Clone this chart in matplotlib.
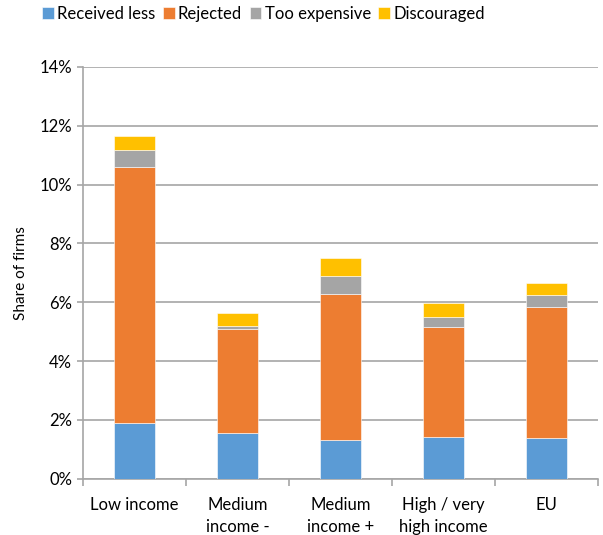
import numpy as np
import matplotlib
import matplotlib.pyplot as plt
from matplotlib.ticker import FuncFormatter, FixedLocator

matplotlib.use("Agg")

plt.rcParams["font.family"] = ["Lato", "DejaVu Sans"]

categories = ["Low income", "Medium\nincome -", "Medium\nincome +",
              "High / very\nhigh income", "EU"]
series = ["Received less", "Rejected", "Too expensive", "Discouraged"]
received_less = [1.90, 1.55, 1.31, 1.42, 1.40]
rejected = [8.70, 3.54, 4.97, 3.73, 4.43]
too_expensive = [0.58, 0.12, 0.60, 0.34, 0.41]
discouraged = [0.47, 0.44, 0.62, 0.47, 0.40]
colors = ["#5B9BD5", "#ED7D31", "#A5A5A5", "#FFC000"]

fig = plt.figure(figsize=(6.03, 5.35), dpi=100)
ax = fig.add_axes([0.138, 0.105, 0.854, 0.770])

x = np.arange(len(categories))
bottom = np.zeros(len(categories))
for name, vals, c in zip(series, [received_less, rejected, too_expensive, discouraged], colors):
    ax.bar(x, vals, 0.4, bottom=bottom, color=c, label=name,
           edgecolor="white", linewidth=0.4, zorder=3)
    bottom += np.array(vals)

ax.set_xlim(-0.5, 4.5)
ax.set_ylim(0, 14)
ax.set_yticks(np.arange(0, 15, 2))
ax.yaxis.set_major_formatter(FuncFormatter(lambda v, p: f"{v:.0f}%"))
ax.yaxis.grid(True, color="#A6A6A6", linewidth=1.2, zorder=0)
ax.set_xticks(x)
ax.set_xticklabels(categories, linespacing=1.45)
ax.xaxis.set_minor_locator(FixedLocator(np.arange(-0.5, 5, 1)))
ax.tick_params(axis="x", which="major", length=0, pad=13, labelsize=12)
ax.tick_params(axis="x", which="minor", length=5, color="#A6A6A6", width=1.2)
ax.tick_params(axis="y", length=4, color="#A6A6A6", width=1.2, labelsize=12, pad=4)
for s in ["top", "right"]:
    ax.spines[s].set_visible(False)
ax.spines["left"].set_color("#A6A6A6")
ax.spines["left"].set_linewidth(1.2)
ax.spines["bottom"].set_color("#A6A6A6")
ax.spines["bottom"].set_linewidth(1.2)
ax.set_ylabel("Share of firms", fontsize=11, labelpad=8)

fig.legend(loc="center", bbox_to_anchor=(0.437, 0.974), ncol=4, frameon=False,
           fontsize=12, handlelength=0.7, handleheight=0.7, handletextpad=0.2,
           columnspacing=0.45, borderaxespad=0)

fig.savefig("out.png", dpi=100)
plt.close(fig)
